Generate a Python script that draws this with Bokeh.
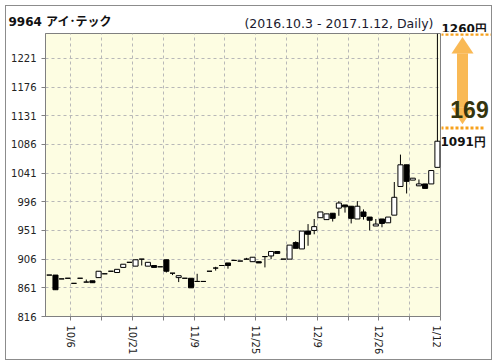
import numpy as np
from bokeh.plotting import figure
from bokeh.layouts import row, column
from bokeh.models import FixedTicker, Range1d, ColumnDataSource
from bokeh.core.properties import value
from bokeh.embed import file_html
from bokeh.resources import INLINE

# ---------------- data ----------------
stock_code = "9964"
stock_name = "アイ･テック"
period_text = "(2016.10.3 - 2017.1.12, Daily)"

opens  = [881, 881, 875, 876, 868, 876, 870, 872, 877, 883, 887, 885, 893, 901, 895, 906,
          895, 896, 894, 905, 884, 877, 876, 876, 871, 871, 887, 892, 896, 900, 904, 903,
          906, 902, 902, 910, 911, 918, 906, 906, 932, 922, 950, 951, 971, 968, 978, 986,
          991, 989, 969, 980, 972, 958, 969, 963, 975, 1020, 1054, 1030, 1021, 1024, 1024, 1050]
highs  = [881, 881, 875, 876, 868, 876, 874, 872, 887, 883, 887, 890, 898, 901, 905, 906,
          901, 896, 894, 905, 884, 880, 876, 876, 883, 871, 887, 894, 896, 900, 904, 903,
          908, 909, 902, 910, 918, 918, 906, 928, 934, 950, 961, 969, 980, 977, 978, 997,
          991, 989, 997, 984, 972, 969, 969, 972, 1027, 1070, 1054, 1033, 1031, 1024, 1045, 1260]
lows   = [881, 858, 875, 876, 868, 876, 870, 869, 877, 883, 887, 885, 893, 901, 895, 896,
          895, 893, 894, 885, 881, 870, 876, 861, 871, 871, 887, 888, 896, 891, 904, 903,
          906, 902, 900, 893, 906, 915, 906, 906, 923, 922, 927, 945, 971, 968, 965, 974,
          979, 962, 969, 968, 951, 958, 956, 963, 975, 1020, 1009, 1030, 1021, 1017, 1024, 1050]
closes = [881, 858, 875, 876, 868, 876, 870, 869, 887, 883, 887, 890, 898, 901, 905, 906,
          901, 893, 894, 887, 884, 880, 876, 861, 871, 871, 887, 892, 896, 896, 904, 903,
          906, 909, 900, 910, 918, 915, 906, 928, 923, 950, 945, 957, 980, 977, 970, 994,
          988, 970, 989, 973, 967, 961, 962, 972, 1003, 1054, 1028, 1033, 1024, 1017, 1045, 1091]

x_tick_idx = [3, 8, 13, 18, 23, 28, 33, 38, 43, 48, 53, 58, 63]
x_tick_labels = ["10/6", "", "10/21", "", "11/9", "", "11/25", "", "12/9", "", "12/26", "", "1/12"]
y_ticks = [816, 861, 906, 951, 996, 1041, 1086, 1131, 1176, 1221]
y_min, y_max = 816, 1260

# ---------------- layout constants (page pixels) ----------------
ORIGIN = 6                      # page px of the content's top-left corner
HEAD_END = 32                   # header strip covers y in [ORIGIN, HEAD_END)
FL, FT = 45, 33                 # chart frame left/top
FW, FH = 395, 283               # chart frame size
RIGHT = 491                     # outer right edge (exclusive)
BOTTOM = 359                    # outer bottom edge (exclusive)
ROW_H = BOTTOM - HEAD_END
MAIN_W = FL + FW + 1 - ORIGIN
SIDE_X0 = ORIGIN + MAIN_W
x_start, x_end = -0.62, 63.5

def ypx(py):
    return y_min + (FT + FH - py) * (y_max - y_min) / FH

lab_font = "DejaVu Sans, Noto Sans CJK JP"

# ---------------- header strip ----------------
t = figure(width=RIGHT - ORIGIN, height=HEAD_END - ORIGIN, output_backend="svg", toolbar_location=None,
           x_range=Range1d(ORIGIN, RIGHT), y_range=Range1d(HEAD_END, ORIGIN),
           min_border=0, x_axis_type=None, y_axis_type=None, title=None)
t.outline_line_color = None
t.grid.visible = False
t.text(x=[8], y=[21.7], text=[f"{stock_code}  {stock_name}"], text_align="left",
       text_font=value(lab_font), text_font_size="12px", text_font_style="bold",
       text_color="#111111", text_baseline="alphabetic")
t.text(x=[433], y=[22.7], text=[period_text], text_align="right",
       text_font=value("DejaVu Sans"), text_font_size="12.5px",
       text_color="#1a1a2e", text_baseline="alphabetic")

# ---------------- candlestick chart ----------------
n = len(opens)
idx = np.arange(n)
o = np.array(opens); c = np.array(closes)
top = np.maximum(o, c); bot = np.minimum(o, c)
fill = ["white" if cc > oo else "black" for oo, cc in zip(o, c)]
src = ColumnDataSource(dict(x=idx, high=highs, low=lows, top=top, bot=bot, fill=fill))

p = figure(width=MAIN_W, height=ROW_H, output_backend="svg", toolbar_location=None,
           x_range=Range1d(x_start, x_end), y_range=Range1d(y_min, y_max), title=None,
           min_border_left=FL - ORIGIN, min_border_top=FT - HEAD_END,
           min_border_right=MAIN_W - (FL - ORIGIN) - FW,
           min_border_bottom=ROW_H - (FT - HEAD_END) - FH)
p.background_fill_color = "#fdfde2"
p.border_fill_color = "white"
p.outline_line_color = "#808080"

tick_pos = [i + 0.5 for i in x_tick_idx]
p.xaxis.ticker = FixedTicker(ticks=tick_pos)
p.xaxis.major_label_overrides = {tp: l for tp, l in zip(tick_pos, x_tick_labels)}
p.xaxis.major_label_orientation = "vertical"
p.yaxis.ticker = FixedTicker(ticks=y_ticks)
for ax in (p.xaxis, p.yaxis):
    ax.axis_line_color = "#808080"
    ax.major_tick_line_color = "#808080"
    ax.minor_tick_line_color = None
    ax.major_tick_in = 0
    ax.major_tick_out = 4
    ax.major_label_text_font = "DejaVu Sans"
    ax.major_label_text_font_size = "10px"
    ax.major_label_text_color = "#222222"
    ax.major_label_standoff = 5
p.xgrid.ticker = FixedTicker(ticks=tick_pos)
p.ygrid.ticker = FixedTicker(ticks=y_ticks)
for g in (p.xgrid, p.ygrid):
    g.grid_line_color = "#b8b8b8"
    g.grid_line_dash = "3 3"

p.segment(x0="x", y0="high", x1="x", y1="low", source=src, line_color="black", line_width=1)
p.vbar(x="x", width=0.82, top="top", bottom="bot", source=src,
       fill_color="fill", line_color="black", line_width=1)

# ---------------- side panel: high / close annotation ----------------
hi = max(highs)
last = closes[-1]
diff = hi - last
orange = "#f7a11c"
u = (y_max - y_min) / FH          # price units per pixel

s = figure(width=RIGHT - SIDE_X0, height=ROW_H, output_backend="svg", toolbar_location=None,
           x_range=Range1d(SIDE_X0, RIGHT), y_range=Range1d(ypx(BOTTOM), ypx(HEAD_END)),
           min_border=0, x_axis_type=None, y_axis_type=None, title=None)
s.outline_line_color = None
s.grid.visible = False

s.segment(x0=[SIDE_X0 - 1, SIDE_X0 - 1], y0=[hi, last - 0.5 * u],
          x1=[RIGHT, 484], y1=[hi, last - 0.5 * u],
          line_color=orange, line_width=3, line_dash="3 2")
ax_c, shaft_w, head_w, head_l = 462, 11, 22, 19
tip_top, tip_bot = hi - 3 * u, last + 4 * u
hl = head_l * u
s.patch(x=[ax_c - shaft_w / 2, ax_c + shaft_w / 2, ax_c + shaft_w / 2, ax_c - shaft_w / 2],
        y=[tip_bot + hl, tip_bot + hl, tip_top - hl, tip_top - hl],
        fill_color=orange, fill_alpha=0.75, line_color=None)
s.patches(xs=[[ax_c - head_w / 2, ax_c + head_w / 2, ax_c], [ax_c - head_w / 2, ax_c + head_w / 2, ax_c]],
          ys=[[tip_top - hl, tip_top - hl, tip_top], [tip_bot + hl, tip_bot + hl, tip_bot]],
          fill_color=orange, fill_alpha=0.75, line_color=None)
s.text(x=[469], y=[ypx(119.5)], text=[f"{diff}"], text_align="center",
       text_font=value("Liberation Sans"), text_font_size="23px", text_font_style="bold",
       text_color="#34340e", text_baseline="alphabetic")
s.text(x=[440], y=[ypx(157.5)], text=[f"{last}円"],
       text_font=value("DejaVu Sans"), text_font_size="12px", text_font_style="bold",
       text_color="#111111", text_baseline="alphabetic")

# high label sits in the header strip, just above the dotted line
t.text(x=[441], y=[28.6], text=[f"{hi}円"],
       text_font=value("DejaVu Sans"), text_font_size="12px", text_font_style="bold",
       text_color="#111111", text_baseline="alphabetic")

layout = column(t, row(p, s, spacing=0), spacing=0)
layout.styles = {"border": "1px solid #8c8c8c", "position": "relative",
                 "left": f"{ORIGIN - 1}px", "top": f"{ORIGIN - 1}px"}

open("out.html", "w").write(file_html(layout, INLINE))
